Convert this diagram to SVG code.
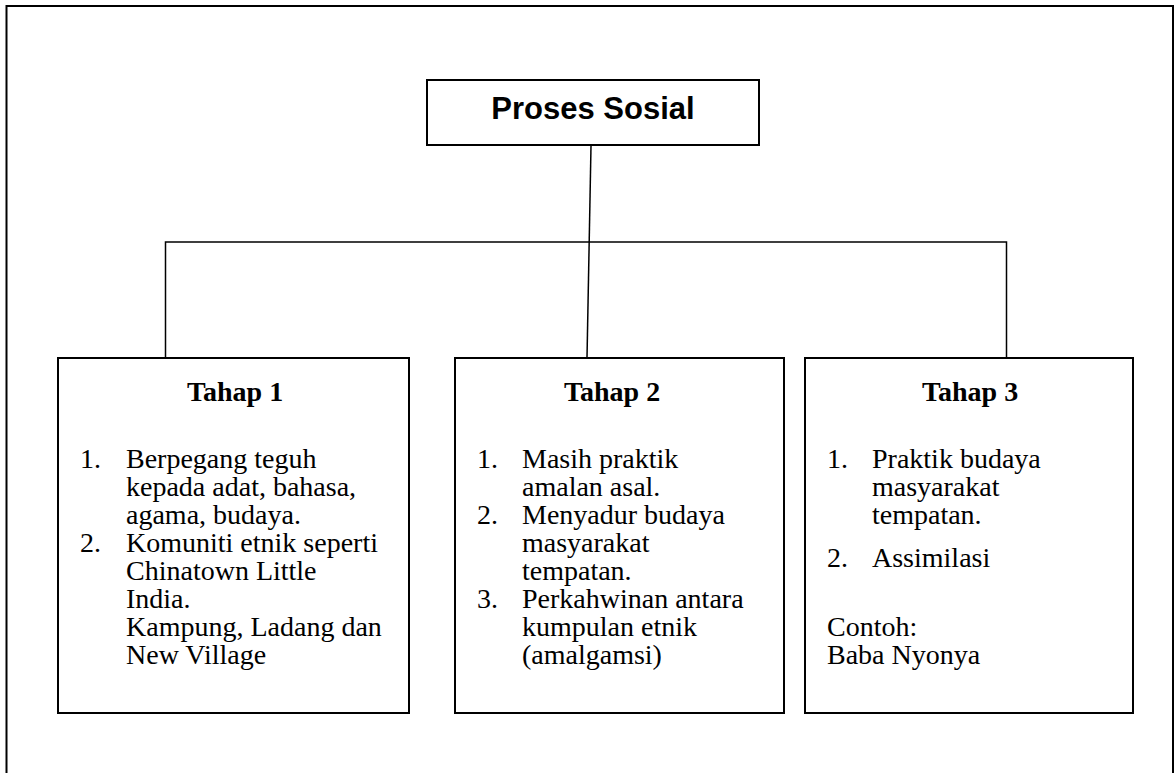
<svg xmlns="http://www.w3.org/2000/svg" width="1174" height="773" viewBox="0 0 1174 773">
<style>
.box{fill:#fff;stroke:#000;stroke-width:2}
.con{stroke:#000;stroke-width:1.5;fill:none}
.ttl{font-family:"Liberation Serif","Times New Roman",serif;font-weight:bold;font-size:28px;text-anchor:middle;fill:#000}
.t{font-family:"Liberation Serif","Times New Roman",serif;font-size:28px;fill:#000}
.hd{font-family:"Liberation Sans",Arial,sans-serif;font-weight:bold;font-size:31px;text-anchor:middle;fill:#000}
</style>
<rect x="0" y="0" width="1174" height="773" fill="#fff"/>
<rect x="6.5" y="6" width="1166.5" height="800" fill="none" stroke="#000" stroke-width="2"/>
<g id="connectors">
<line class="con" x1="591" y1="146" x2="587" y2="358"/>
<polyline class="con" points="165.5,358 165.5,242 1006.5,242 1006.5,358"/>
</g>
<g id="proses-sosial">
<rect class="box" x="427" y="80" width="332" height="65"/>
<text class="hd" x="593" y="119">Proses Sosial</text>
</g>
<g id="tahap-1">
<rect class="box" x="58" y="358" width="351" height="355"/>
<text class="ttl" x="235" y="401">Tahap 1</text>
<text class="t" x="80" y="468">1.</text>
<text class="t" x="126" y="468">Berpegang teguh</text>
<text class="t" x="126" y="496">kepada adat, bahasa,</text>
<text class="t" x="126" y="524">agama, budaya.</text>
<text class="t" x="80" y="552">2.</text>
<text class="t" x="126" y="552">Komuniti etnik seperti</text>
<text class="t" x="126" y="580">Chinatown Little</text>
<text class="t" x="126" y="608">India.</text>
<text class="t" x="126" y="636">Kampung, Ladang dan</text>
<text class="t" x="126" y="664">New Village</text>
</g>
<g id="tahap-2">
<rect class="box" x="455" y="358" width="329" height="355"/>
<text class="ttl" x="612" y="401">Tahap 2</text>
<text class="t" x="477" y="468">1.</text>
<text class="t" x="522" y="468">Masih praktik</text>
<text class="t" x="522" y="496">amalan asal.</text>
<text class="t" x="477" y="524">2.</text>
<text class="t" x="522" y="524">Menyadur budaya</text>
<text class="t" x="522" y="552">masyarakat</text>
<text class="t" x="522" y="580">tempatan.</text>
<text class="t" x="477" y="608">3.</text>
<text class="t" x="522" y="608">Perkahwinan antara</text>
<text class="t" x="522" y="636">kumpulan etnik</text>
<text class="t" x="522" y="664">(amalgamsi)</text>
</g>
<g id="tahap-3">
<rect class="box" x="805" y="358" width="328" height="355"/>
<text class="ttl" x="970" y="401">Tahap 3</text>
<text class="t" x="827" y="468">1.</text>
<text class="t" x="872" y="468">Praktik budaya</text>
<text class="t" x="872" y="496">masyarakat</text>
<text class="t" x="872" y="524">tempatan.</text>
<text class="t" x="827" y="567">2.</text>
<text class="t" x="872" y="567">Assimilasi</text>
<text class="t" x="827" y="636">Contoh:</text>
<text class="t" x="827" y="664">Baba Nyonya</text>
</g>
</svg>
